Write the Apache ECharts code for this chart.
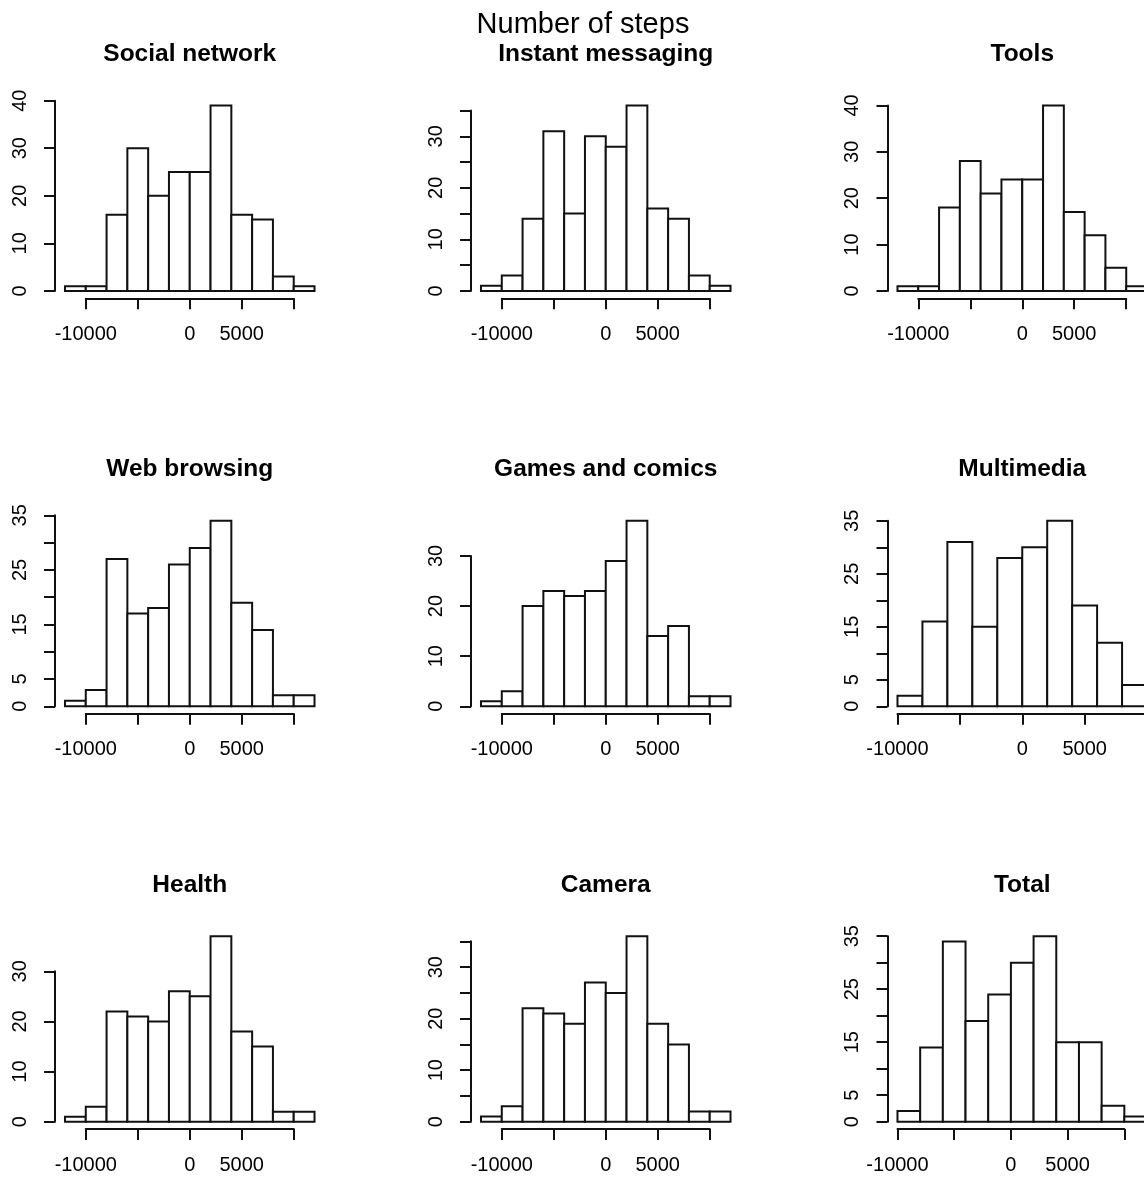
<!DOCTYPE html>
<html>
<head>
<meta charset="utf-8">
<title>Number of steps</title>
<script src="https://cdn.jsdelivr.net/npm/echarts@6/dist/echarts.min.js"></script>
<style>
  html, body { margin: 0; padding: 0; background: #fff; }
  #chart { width: 1144px; height: 1178px; }
</style>
</head>
<body>
<div id="chart"></div>
<script>
// Histograms of step differences per app category (bin width 2000)
const mainTitle = 'Number of steps';
const panelTitles = ['Social network', 'Instant messaging', 'Tools',
  'Web browsing', 'Games and comics', 'Multimedia',
  'Health', 'Camera', 'Total'];

const binWidth = 2000;
const binStarts = [-12000, -12000, -12000, -12000, -12000, -10000, -12000, -12000, -10000];

const socialNetwork    = [1, 1, 16, 30, 20, 25, 25, 39, 16, 15, 3, 1];
const instantMessaging = [1, 3, 14, 31, 15, 30, 28, 36, 16, 14, 3, 1];
const tools            = [1, 1, 18, 28, 21, 24, 24, 40, 17, 12, 5, 1];
const webBrowsing      = [1, 3, 27, 17, 18, 26, 29, 34, 19, 14, 2, 2];
const gamesAndComics   = [1, 3, 20, 23, 22, 23, 29, 37, 14, 16, 2, 2];
const multimedia       = [2, 16, 31, 15, 28, 30, 35, 19, 12, 4];
const health           = [1, 3, 22, 21, 20, 26, 25, 37, 18, 15, 2, 2];
const camera           = [1, 3, 22, 21, 19, 27, 25, 36, 19, 15, 2, 2];
const total            = [2, 14, 34, 19, 24, 30, 35, 15, 15, 3, 1];
const counts = [socialNetwork, instantMessaging, tools, webBrowsing, gamesAndComics,
  multimedia, health, camera, total];

// y axis ticks: step, top tick and the ticks that carry a label
const yTickStep = [10, 5, 10, 5, 10, 5, 10, 5, 5];
const yTickTop  = [40, 35, 40, 35, 30, 35, 30, 35, 35];
const yLabelled = [
  [0, 10, 20, 30, 40], [0, 10, 20, 30], [0, 10, 20, 30, 40],
  [0, 5, 15, 25, 35], [0, 10, 20, 30], [0, 5, 15, 25, 35],
  [0, 10, 20, 30], [0, 10, 20, 30], [0, 5, 15, 25, 35]
];
// x axis ticks and labelled ticks
const xTickMin = -10000, xTickMax = 10000, xTickStep = 5000;
const xLabelled = [-10000, 0, 5000];

// layout of the 3x3 plot regions
const colLeft = [55, 471, 887.5];
const rowBottom = [298.3, 713.7, 1129.1];
const plotW = 269.5, plotH = 200.3;
const titleTop = [41.5, 456.9, 872.3];

const FONT = 'Liberation Sans, Arial, sans-serif';
const INK = '#000';
const LINE = '#111';

const grids = [], xAxes = [], yAxes = [], series = [], titles = [];

titles.push({
  text: mainTitle, left: 583, top: 10, textAlign: 'center', padding: 0,
  textStyle: { fontFamily: FONT, fontSize: 29, fontWeight: 'normal', color: INK }
});

counts.forEach((vals, i) => {
  const col = i % 3, row = Math.floor(i / 3);
  const left = colLeft[col], bottom = rowBottom[row];
  const lo = binStarts[i], hi = lo + vals.length * binWidth;
  const xPad = 0.04 * (hi - lo);
  const xmin = lo - xPad, xmax = hi + xPad;
  const M = Math.max(...vals);
  const ymin = -0.04 * M, ymax = 1.04 * M;
  const pxX = plotW / (xmax - xmin), pxY = plotH / (ymax - ymin);

  titles.push({
    text: panelTitles[i], left: left + plotW / 2, top: titleTop[row],
    textAlign: 'center', padding: 0,
    textStyle: { fontFamily: FONT, fontSize: 24.5, fontWeight: 'bold', color: INK }
  });

  // plot region holding the bars
  const g0 = grids.length;
  grids.push({ left: left, top: bottom - plotH, width: plotW, height: plotH,
    containLabel: false, outerBoundsMode: 'none' });
  xAxes.push({ gridIndex: g0, type: 'value', min: xmin, max: xmax, show: false });
  yAxes.push({ gridIndex: g0, type: 'value', min: ymin, max: ymax, show: false });
  series.push({
    type: 'custom', xAxisIndex: xAxes.length - 1, yAxisIndex: yAxes.length - 1,
    clip: false,
    encode: { x: [0, 1], y: 2 },
    data: vals.map((c, k) => [lo + k * binWidth, lo + (k + 1) * binWidth, c]),
    renderItem: (params, api) => {
      const p0 = api.coord([api.value(0), 0]);
      const p1 = api.coord([api.value(1), api.value(2)]);
      return {
        type: 'rect',
        shape: { x: p0[0], y: p1[1], width: p1[0] - p0[0], height: p0[1] - p1[1] },
        style: { fill: '#fff', stroke: LINE, lineWidth: 2 }
      };
    }
  });

  // y axis from 0 to the top tick
  const g1 = grids.length;
  const yTop = yTickTop[i];
  grids.push({ left: left, width: 10,
    top: bottom - (yTop - ymin) * pxY, height: yTop * pxY,
    containLabel: false, outerBoundsMode: 'none' });
  xAxes.push({ gridIndex: g1, type: 'value', show: false });
  const labelled = yLabelled[i];
  yAxes.push({
    gridIndex: g1, type: 'value', min: 0, max: yTop, interval: yTickStep[i],
    position: 'left',
    axisLine: { show: true, lineStyle: { color: LINE, width: 2 } },
    axisTick: { show: true, length: 11, lineStyle: { color: LINE, width: 2 } },
    splitLine: { show: false },
    axisLabel: {
      rotate: 90, margin: 25, fontFamily: FONT, fontSize: 20, color: INK,
      showMinLabel: true, showMaxLabel: true,
      formatter: v => labelled.includes(v) ? String(v) : ''
    }
  });

  // x axis from -10000 to 10000
  const g2 = grids.length;
  grids.push({ left: left + (xTickMin - xmin) * pxX, width: (xTickMax - xTickMin) * pxX,
    top: bottom - 10, height: 10,
    containLabel: false, outerBoundsMode: 'none' });
  xAxes.push({
    gridIndex: g2, type: 'value', min: xTickMin, max: xTickMax, interval: xTickStep,
    position: 'bottom',
    axisLine: { show: true, lineStyle: { color: LINE, width: 2 } },
    axisTick: { show: true, length: 11, lineStyle: { color: LINE, width: 2 } },
    splitLine: { show: false },
    axisLabel: {
      margin: 26, fontFamily: FONT, fontSize: 20, color: INK,
      showMinLabel: true, showMaxLabel: true, hideOverlap: false,
      formatter: v => xLabelled.includes(v) ? String(v) : ''
    }
  });
  yAxes.push({ gridIndex: g2, type: 'value', show: false });
});

const chart = echarts.init(document.getElementById('chart'), null, { renderer: 'canvas' });
chart.setOption({
  backgroundColor: '#fff',
  animation: false,
  title: titles,
  grid: grids,
  xAxis: xAxes,
  yAxis: yAxes,
  series: series
});
</script>
</body>
</html>
